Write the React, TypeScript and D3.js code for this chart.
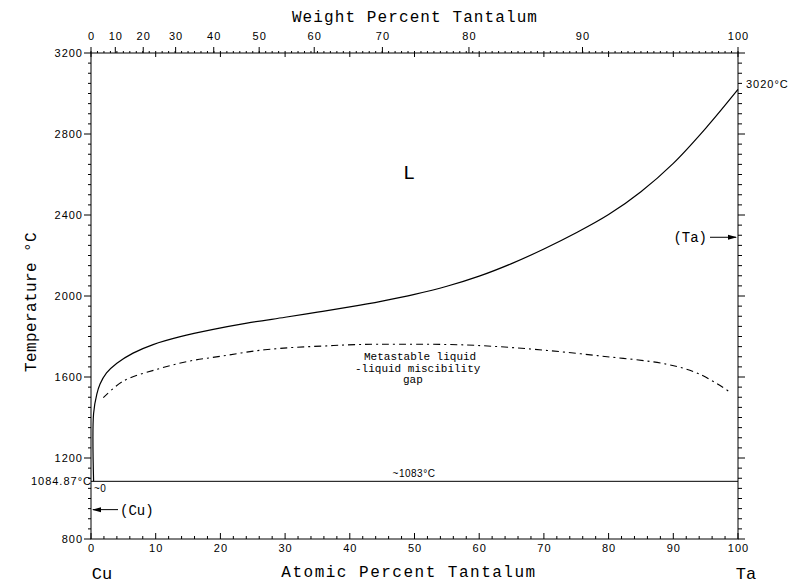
import * as d3 from 'd3';

// liquidus (solid line): atomic % Ta vs temperature
const liquidusPct = [0.4, 0.4, 0.9, 1.4, 2.4, 4, 6.5, 9.6, 13.8, 18.9, 24.1, 30, 35, 40, 45, 50, 55, 60, 65, 70, 75, 80, 85, 90, 95, 100];
const liquidusT = [1084.87, 1420, 1515, 1565, 1620, 1668, 1718, 1760, 1799, 1835, 1866, 1895, 1920, 1946, 1975, 2008, 2048, 2098, 2160, 2232, 2312, 2402, 2515, 2655, 2828, 3020];

// metastable liquid miscibility gap (dash-dot)
const gapPct = [1.9, 5, 10.2, 15.3, 20.4, 25.6, 30.8, 35.9, 41.1, 47.8, 58.1, 68.4, 78.7, 89, 94.1, 98.5];
const gapT = [1498, 1580, 1638, 1679, 1704, 1730, 1745, 1753, 1760, 1762, 1758, 1737, 1704, 1663, 1614, 1531];

const eutecticT = 1084.87;
const taMeltT = 3020;
const taArrowT = 2290;
const cuArrowT = 945;

const atTicks = [0, 10, 20, 30, 40, 50, 60, 70, 80, 90, 100];
const wtTicks = [0, 10, 20, 30, 40, 50, 60, 70, 80, 90, 100];
const tempTicks = [800, 1200, 1600, 2000, 2400, 2800, 3200];

const M_CU = 63.546;
const M_TA = 180.948;
const wtToAt = (w: number) => {
  const a = w / M_TA;
  const b = (100 - w) / M_CU;
  return (100 * a) / (a + b);
};

const width = 795;
const height = 584;
const left = 91;
const right = 738;
const top = 53;
const bottom = 539;

const mono = 'Liberation Mono, Courier New, monospace';
const sans = 'Liberation Sans, Arial, sans-serif';

export default function App() {
  const x = d3.scaleLinear([0, 100], [left, right]);
  const y = d3.scaleLinear([800, 3200], [bottom, top]);

  const line = d3
    .line<[number, number]>()
    .x((d) => x(d[0]))
    .y((d) => y(d[1]))
    .curve(d3.curveCatmullRom.alpha(0.5));

  const liquidus = line(liquidusPct.map((p, i) => [p, liquidusT[i]] as [number, number]));
  const gap = line(gapPct.map((p, i) => [p, gapT[i]] as [number, number]));

  const tempMinor = d3.range(800, 3201, 50);
  const atMinorBottom = d3.range(0, 101, 2);
  const atMinorTop = d3.range(0, 101, 1);

  const yEut = y(eutecticT);
  const yTa = y(taArrowT);
  const yCu = y(cuArrowT);

  return (
    <svg width={width} height={height} style={{ position: 'absolute', left: 0, top: 0, background: '#fff' }}>
      <g stroke="#000" strokeWidth={1} fill="none">
        {/* frame */}
        <rect x={left} y={top} width={right - left} height={bottom - top} />

        {/* left and right temperature ticks */}
        {tempMinor.map((t) => {
          const major = t % 400 === 0;
          return (
            <g key={'t' + t}>
              <line x1={left - (major ? 7 : 3)} x2={left} y1={y(t)} y2={y(t)} />
              <line x1={right} x2={right + (major ? 7 : 4)} y1={y(t)} y2={y(t)} />
            </g>
          );
        })}

        {/* bottom atomic percent ticks */}
        {atMinorBottom.map((p) => (
          <line key={'b' + p} x1={x(p)} x2={x(p)} y1={bottom} y2={bottom - (p % 10 === 0 ? 6 : 3)} />
        ))}

        {/* top: atomic percent ticks inside, weight percent ticks outside */}
        {atMinorTop.map((p) => (
          <line key={'ta' + p} x1={x(p)} x2={x(p)} y1={top} y2={top - 2} />
        ))}
        {atTicks.map((p) => (
          <line key={'td' + p} x1={x(p)} x2={x(p)} y1={top} y2={top + 4} />
        ))}
        {wtTicks.map((w) => (
          <line key={'tw' + w} x1={x(wtToAt(w))} x2={x(wtToAt(w))} y1={top} y2={top - 6} />
        ))}

        {/* monotectic horizontal */}
        <line x1={left} x2={right} y1={yEut} y2={yEut} />

        {/* curves */}
        <path d={liquidus ?? ''} strokeWidth={1.2} />
        <path d={gap ?? ''} strokeWidth={1.1} strokeDasharray="7,4,2,4" />

        {/* arrows */}
        <line x1={710} x2={right - 2} y1={yTa} y2={yTa} />
        <line x1={left + 2} x2={118} y1={yCu} y2={yCu} />
      </g>
      <polygon
        points={`${right - 1},${yTa} ${right - 10},${yTa - 2.5} ${right - 10},${yTa + 2.5}`}
        fill="#000"
      />
      <polygon
        points={`${left + 1},${yCu} ${left + 10},${yCu - 2.5} ${left + 10},${yCu + 2.5}`}
        fill="#000"
      />

      {/* tick labels */}
      <g fontFamily={sans} fontSize={11} letterSpacing={1} fill="#000">
        {tempTicks.map((t) => (
          <text key={'lt' + t} x={left - 8} y={y(t) + 4} textAnchor="end">
            {t}
          </text>
        ))}
        {atTicks.map((p) => (
          <text key={'lb' + p} x={x(p) + 0.5} y={552} textAnchor="middle">
            {p}
          </text>
        ))}
        {wtTicks.map((w) => (
          <text key={'lw' + w} x={x(wtToAt(w)) + 0.5} y={40} textAnchor="middle">
            {w}
          </text>
        ))}
        <text x={left + 1} y={yEut + 4} textAnchor="end">1084.87°C</text>
        <text x={right + 8} y={y(taMeltT) - 1}>3020°C</text>
        <text x={414} y={yEut - 4} textAnchor="middle" fontSize={10} letterSpacing={0.5}>~1083°C</text>
        <text x={94} y={yEut + 11} fontSize={10} letterSpacing={0.5}>~0</text>
      </g>

      {/* titles and phase labels */}
      <g fontFamily={mono} fill="#000">
        <text x={415} y={22} textAnchor="middle" fontSize={16} letterSpacing={1.1}>
          Weight Percent Tantalum
        </text>
        <text x={409} y={577} textAnchor="middle" fontSize={16} letterSpacing={1.5}>
          Atomic Percent Tantalum
        </text>
        <text x={102} y={579} textAnchor="middle" fontSize={17}>Cu</text>
        <text x={746} y={579} textAnchor="middle" fontSize={17}>Ta</text>
        <text
          transform="translate(36,302) rotate(-90)"
          textAnchor="middle"
          fontSize={16}
          letterSpacing={0.4}
        >
          Temperature °C
        </text>
        <text x={409} y={179} textAnchor="middle" fontSize={20}>L</text>
        <text x={707} y={yTa + 5} textAnchor="end" fontSize={14}>(Ta)</text>
        <text x={120} y={yCu + 5} fontSize={14}>(Cu)</text>
        <g fontSize={11}>
          <text x={364} y={360}>Metastable liquid</text>
          <text x={355} y={372}>-liquid miscibility</text>
          <text x={403} y={383}>gap</text>
        </g>
      </g>
    </svg>
  );
}
